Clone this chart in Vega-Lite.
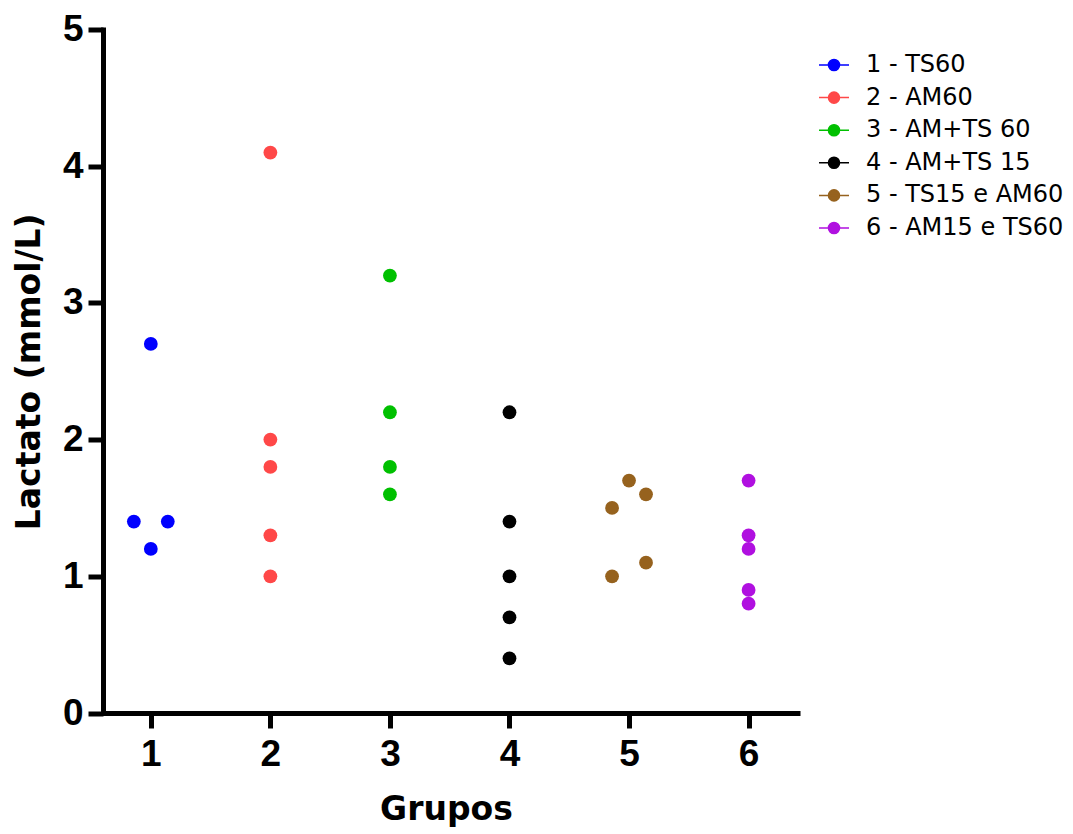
{
  "$schema": "https://vega.github.io/schema/vega-lite/v6.json",
  "width": 697,
  "height": 683.5,
  "autosize": {"type": "none"},
  "padding": {"left": 103, "top": 29.5, "right": 273, "bottom": 121.5},
  "background": "white",
  "config": {"view": {"stroke": null}},
  "data": {
    "values": [
      {"x": 1.0, "y": 2.7, "grupo": "1 - TS60"},
      {"x": 0.858, "y": 1.4, "grupo": "1 - TS60"},
      {"x": 1.142, "y": 1.4, "grupo": "1 - TS60"},
      {"x": 1.0, "y": 1.2, "grupo": "1 - TS60"},
      {"x": 2.0, "y": 4.1, "grupo": "2 - AM60"},
      {"x": 2.0, "y": 2.0, "grupo": "2 - AM60"},
      {"x": 2.0, "y": 1.8, "grupo": "2 - AM60"},
      {"x": 2.0, "y": 1.3, "grupo": "2 - AM60"},
      {"x": 2.0, "y": 1.0, "grupo": "2 - AM60"},
      {"x": 3.0, "y": 3.2, "grupo": "3 - AM+TS 60"},
      {"x": 3.0, "y": 2.2, "grupo": "3 - AM+TS 60"},
      {"x": 3.0, "y": 1.8, "grupo": "3 - AM+TS 60"},
      {"x": 3.0, "y": 1.6, "grupo": "3 - AM+TS 60"},
      {"x": 4.0, "y": 2.2, "grupo": "4 - AM+TS 15"},
      {"x": 4.0, "y": 1.4, "grupo": "4 - AM+TS 15"},
      {"x": 4.0, "y": 1.0, "grupo": "4 - AM+TS 15"},
      {"x": 4.0, "y": 0.7, "grupo": "4 - AM+TS 15"},
      {"x": 4.0, "y": 0.4, "grupo": "4 - AM+TS 15"},
      {"x": 4.858, "y": 1.5, "grupo": "5 - TS15 e AM60"},
      {"x": 5.0, "y": 1.7, "grupo": "5 - TS15 e AM60"},
      {"x": 5.142, "y": 1.6, "grupo": "5 - TS15 e AM60"},
      {"x": 5.142, "y": 1.1, "grupo": "5 - TS15 e AM60"},
      {"x": 4.858, "y": 1.0, "grupo": "5 - TS15 e AM60"},
      {"x": 6.0, "y": 1.7, "grupo": "6 - AM15 e TS60"},
      {"x": 6.0, "y": 1.3, "grupo": "6 - AM15 e TS60"},
      {"x": 6.0, "y": 1.2, "grupo": "6 - AM15 e TS60"},
      {"x": 6.0, "y": 0.9, "grupo": "6 - AM15 e TS60"},
      {"x": 6.0, "y": 0.8, "grupo": "6 - AM15 e TS60"}
    ]
  },
  "mark": {"type": "point", "filled": true, "size": 190, "opacity": 1, "strokeWidth": 0},
  "encoding": {
    "x": {
      "field": "x",
      "type": "quantitative",
      "scale": {"domain": [0.6, 6.43], "nice": false, "zero": false},
      "axis": {
        "title": "Grupos",
        "values": [1, 2, 3, 4, 5, 6],
        "format": "d",
        "grid": false,
        "domainColor": "black",
        "domainWidth": 5,
        "tickColor": "black",
        "tickWidth": 5,
        "tickSize": 15,
        "labelFont": "Liberation Sans",
        "labelFontWeight": "bold",
        "labelFontSize": 37,
        "labelColor": "black",
        "labelPadding": 8,
        "titleFont": "DejaVu Sans",
        "titleFontWeight": "bold",
        "titleFontSize": 33,
        "titleColor": "black",
        "titleX": 343,
        "titleY": 106,
        "titleAlign": "center",
        "titleBaseline": "alphabetic"
      }
    },
    "y": {
      "field": "y",
      "type": "quantitative",
      "scale": {"domain": [0, 5], "nice": false},
      "axis": {
        "title": "Lactato (mmol/L)",
        "values": [0, 1, 2, 3, 4, 5],
        "format": "d",
        "grid": false,
        "domainColor": "black",
        "domainWidth": 5,
        "domainCap": "square",
        "tickColor": "black",
        "tickWidth": 5,
        "tickSize": 15,
        "labelFont": "Liberation Sans",
        "labelFontWeight": "bold",
        "labelFontSize": 37,
        "labelColor": "black",
        "labelPadding": 5,
        "titleFont": "DejaVu Sans",
        "titleFontWeight": "bold",
        "titleFontSize": 33,
        "titleColor": "black",
        "titleX": -74,
        "titleY": 341.75,
        "titleAngle": 270,
        "titleAlign": "center",
        "titleBaseline": "middle"
      }
    },
    "color": {
      "field": "grupo",
      "type": "nominal",
      "scale": {
        "domain": ["1 - TS60", "2 - AM60", "3 - AM+TS 60", "4 - AM+TS 15", "5 - TS15 e AM60", "6 - AM15 e TS60"],
        "range": ["#0000FF", "#FF4848", "#00C000", "#000000", "#96621E", "#B010E0"]
      },
      "legend": {
        "title": null,
        "orient": "none",
        "legendX": 715,
        "legendY": 19.5,
        "padding": 0,
        "symbolType": "M-1,0H1M-0.37,0A0.37,0.37,0,1,1,0.37,0A0.37,0.37,0,1,1,-0.37,0Z",
        "symbolSize": 900,
        "symbolOpacity": 1,
        "symbolStrokeWidth": 1.5,
        "rowPadding": 4.6,
        "labelOffset": 16,
        "labelFont": "DejaVu Sans",
        "labelFontSize": 24,
        "labelColor": "black",
        "labelLimit": 400,
        "encode": {
          "symbols": {
            "update": {
              "stroke": {"scale": "color", "field": "value"},
              "strokeWidth": {"value": 1.5}
            }
          }
        }
      }
    }
  }
}
